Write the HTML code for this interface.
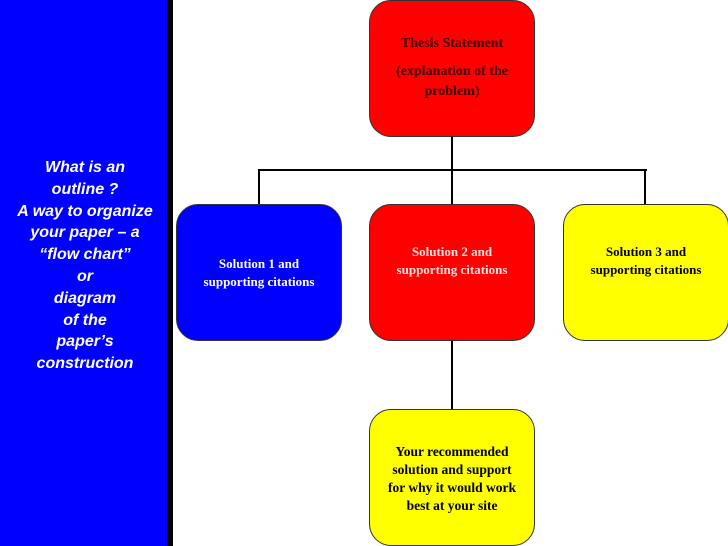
<!DOCTYPE html>
<html><head><meta charset="utf-8"><style>
html,body{margin:0;padding:0;}
body{width:728px;height:546px;position:relative;overflow:hidden;background:#fff;}
.side{position:absolute;left:0;top:0;width:167px;height:546px;background:#0000ff;}
.strip{position:absolute;left:167px;top:0;width:6px;height:546px;background:#000;}
.st{position:absolute;left:0;width:170px;top:157px;text-align:center;color:#fff;font:italic bold 16px/21.8px "Liberation Sans",sans-serif;}
.box{position:absolute;border:1px solid #333;border-radius:22px;box-sizing:border-box;font:bold 13px/18px "Liberation Serif",serif;text-align:center;}
.l{position:absolute;background:#000;}
</style></head><body>
<div class="side"></div><div class="strip"></div>
<div class="st">What is an<br>outline ?<br>A way to organize<br>your paper – a<br>“flow chart”<br>or<br>diagram<br>of the<br>paper’s<br>construction</div>
<div class="l" style="left:451px;top:136px;width:2px;height:70px"></div>
<div class="l" style="left:258px;top:169px;width:389px;height:2px"></div>
<div class="l" style="left:258px;top:169px;width:2px;height:37px"></div>
<div class="l" style="left:644px;top:169px;width:2px;height:37px"></div>
<div class="l" style="left:451px;top:340px;width:2px;height:70px"></div>
<div class="box" style="left:369px;top:0;width:166px;height:137px;background:#ff0000;color:#3a0000;font-size:14px;">
<div style="margin-top:34px">Thesis Statement</div><div style="margin-top:9px;line-height:20px">(explanation of the<br>problem)</div></div>
<div class="box" style="left:176px;top:204px;width:166px;height:137px;background:#0000ff;color:#fff;"><div style="margin-top:50px">Solution 1 and<br>supporting citations</div></div>
<div class="box" style="left:369px;top:204px;width:166px;height:137px;background:#ff0000;color:#f4e0e0;"><div style="margin-top:38px">Solution 2 and<br>supporting citations</div></div>
<div class="box" style="left:563px;top:204px;width:166px;height:137px;background:#ffff00;color:#000;"><div style="margin-top:38px">Solution 3 and<br>supporting citations</div></div>
<div class="box" style="left:369px;top:409px;width:166px;height:137px;background:#ffff00;color:#000;font-size:13.5px;"><div style="margin-top:33px">Your recommended<br>solution and support<br>for why it would work<br>best at your site</div></div>
</body></html>
